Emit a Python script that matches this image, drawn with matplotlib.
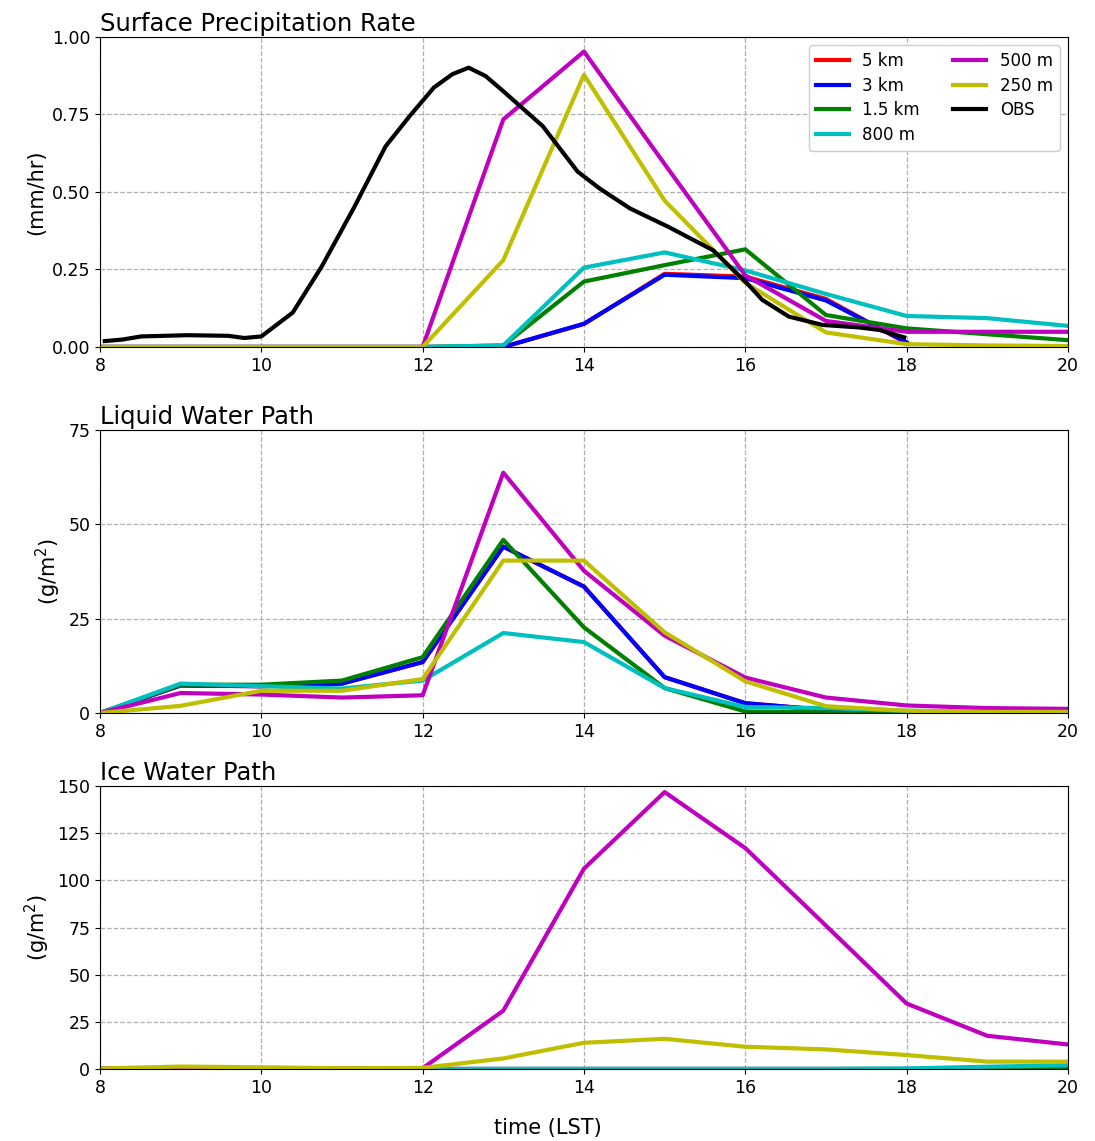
import numpy as np
import matplotlib
matplotlib.use("Agg")
import matplotlib.pyplot as plt

# model output times (LST, hourly)
hours = np.arange(8, 21)
hours_short = np.arange(8, 19)   # 5 km and 3 km runs stop at 18 LST

labels = ["5 km", "3 km", "1.5 km", "800 m", "500 m", "250 m"]
colors = ["r", "b", "g", "c", "m", "y"]

# surface precipitation rate (mm/hr)
pr_5km = [0, 0, 0, 0, 0, 0, 0.074, 0.236, 0.227, 0.155, 0.012]
pr_3km = [0, 0, 0, 0, 0, 0, 0.075, 0.233, 0.222, 0.150, 0.015]
pr_1p5km = [0, 0, 0, 0, 0, 0.005, 0.211, 0.264, 0.315, 0.103, 0.060, 0.041, 0.022]
pr_800m = [0, 0, 0, 0, 0, 0.005, 0.256, 0.305, 0.247, 0.171, 0.100, 0.093, 0.068]
pr_500m = [0, 0, 0, 0, 0, 0.734, 0.953, 0.590, 0.231, 0.084, 0.049, 0.049, 0.049]
pr_250m = [0, 0, 0, 0, 0, 0.280, 0.878, 0.472, 0.207, 0.047, 0.009, 0.005, 0.003]

# observed rain rate
obs_time = [8.06, 8.28, 8.51, 9.09, 9.59, 9.79, 10.0, 10.39, 10.75, 11.15,
            11.54, 11.84, 12.14, 12.37, 12.57, 12.78, 13.0, 13.49, 13.92, 14.19,
            14.57, 15.05, 15.6, 16.03, 16.21, 16.54, 16.96, 17.41, 17.66, 17.97]
obs_rate = [0.019, 0.024, 0.034, 0.038, 0.036, 0.029, 0.034, 0.111, 0.26, 0.45,
            0.647, 0.745, 0.837, 0.880, 0.901, 0.874, 0.825, 0.712, 0.566, 0.512,
            0.447, 0.387, 0.312, 0.203, 0.152, 0.098, 0.071, 0.063, 0.055, 0.031]

# liquid water path (g/m2)
lwp_5km = [0, 7.3, 7.1, 7.8, 13.5, 44.1, 33.5, 9.5, 2.6, 0.8, 0.3]
lwp_3km = [0, 7.3, 7.1, 7.8, 13.5, 44.1, 33.5, 9.5, 2.6, 0.8, 0.3]
lwp_1p5km = [0, 7.5, 7.5, 8.6, 14.8, 45.9, 22.7, 6.6, 0.4, 0.2, 0.1, 0.1, 0.1]
lwp_800m = [0, 7.8, 7.1, 6.5, 8.6, 21.2, 18.8, 6.6, 1.6, 1.3, 0.6, 0.4, 0.3]
lwp_500m = [0, 5.3, 4.9, 4.1, 4.7, 63.7, 37.7, 20.5, 9.4, 4.1, 2.0, 1.3, 1.1]
lwp_250m = [0, 1.9, 5.9, 5.9, 9.0, 40.4, 40.4, 21.4, 8.4, 1.8, 0.6, 0.3, 0.3]

# ice water path (g/m2)
iwp_5km = [0, 0, 0, 0, 0, 0, 0, 0, 0, 0, 0]
iwp_3km = [0, 0, 0, 0, 0, 0, 0, 0, 0, 0, 0]
iwp_1p5km = [0, 0, 0, 0, 0, 0, 0, 0, 0, 0, 0, 0, 0]
iwp_800m = [0, 0, 0, 0, 0, 0, 0, 0, 0, 0, 0.3, 1.2, 2.0]
iwp_500m = [0.3, 0.4, 0.4, 0.3, 0.4, 30.9, 106.2, 146.8, 117.1, 76.0, 34.7, 17.6, 13.0]
iwp_250m = [0.3, 1.3, 0.9, 0.4, 0.6, 5.6, 13.9, 16.0, 11.8, 10.4, 7.4, 3.9, 3.9]

precip = [pr_5km, pr_3km, pr_1p5km, pr_800m, pr_500m, pr_250m]
lwp = [lwp_5km, lwp_3km, lwp_1p5km, lwp_800m, lwp_500m, lwp_250m]
iwp = [iwp_5km, iwp_3km, iwp_1p5km, iwp_800m, iwp_500m, iwp_250m]


def draw_runs(ax, series):
    for vals, lab, col in zip(series, labels, colors):
        t = hours if len(vals) == len(hours) else hours_short
        ax.plot(t, vals, color=col, lw=3, label=lab)


def style_axis(ax, title, ylabel, ymax, ystep):
    ax.set_xlim(8, 20)
    ax.set_ylim(0, ymax)
    ax.set_xticks(np.arange(8, 21, 2))
    ax.set_yticks(np.arange(0, ymax + ystep / 2, ystep))
    ax.grid(True, linestyle="--", color="#b0b0b0", lw=0.9)
    ax.set_title(title, loc="left", fontsize=17.5, pad=4)
    ax.set_ylabel(ylabel, fontsize=15)
    ax.tick_params(labelsize=12.5)


fig = plt.figure(figsize=(10.95, 11.41), dpi=100)
ax1 = fig.add_axes([0.0913, 0.6959, 0.884, 0.2717])
ax2 = fig.add_axes([0.0913, 0.3751, 0.884, 0.248])
ax3 = fig.add_axes([0.0913, 0.0631, 0.884, 0.248])

draw_runs(ax1, precip)
ax1.plot(obs_time, obs_rate, color="k", lw=3, label="OBS")
style_axis(ax1, "Surface Precipitation Rate", "(mm/hr)", 1.0, 0.25)
ax1.yaxis.set_major_formatter(matplotlib.ticker.FormatStrFormatter("%.2f"))
ax1.legend(ncol=2, loc="upper right", fontsize=12, framealpha=1,
           labelspacing=0.4)

draw_runs(ax2, lwp)
style_axis(ax2, "Liquid Water Path", "(g/m$^2$)", 75, 25)

draw_runs(ax3, iwp)
style_axis(ax3, "Ice Water Path", "(g/m$^2$)", 150, 25)

fig.text(0.5, 0.003, "time (LST)", ha="center", va="bottom", fontsize=15)

fig.savefig("out.png", dpi=100)
